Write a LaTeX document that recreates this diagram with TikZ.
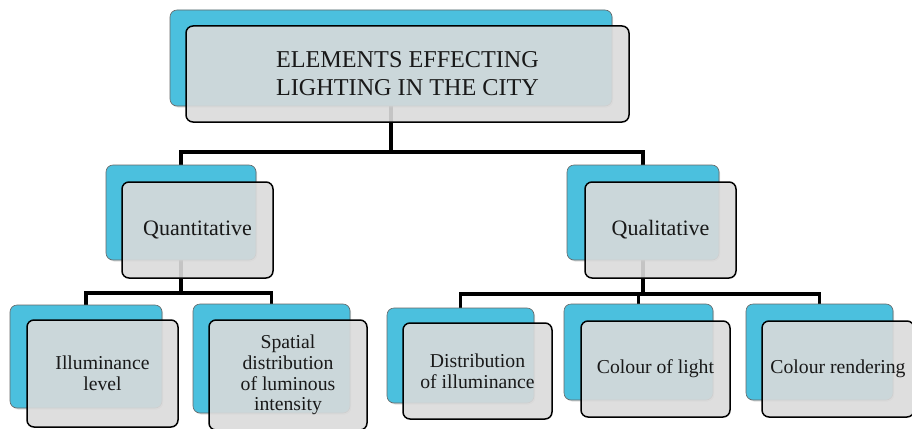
\documentclass[tikz,border=0pt]{standalone}
\usepackage{fontspec}
\setmainfont{Liberation Serif}
\usetikzlibrary{shadows}
\definecolor{skyb}{RGB}{75,192,222}
\definecolor{frontg}{RGB}{218,218,218}
\definecolor{txt}{RGB}{25,25,25}
\pgfdeclarelayer{bg}
\pgfsetlayers{bg,main}
\tikzset{
  backbox/.style={draw=gray!80!black, line width=0.6pt, fill=skyb, rounded corners=7pt,
    inner sep=0pt, drop shadow={opacity=0.25, shadow xshift=1.2pt, shadow yshift=-1.5pt}},
  frontbox/.style={draw=black, line width=1.5pt, fill=frontg, fill opacity=0.9, text opacity=1,
    rounded corners=7pt, inner sep=0pt, align=center, text=txt},
  conn/.style={draw=black, line width=3.8pt},
  fa/.style={font=\fontsize{24.2}{28}\selectfont},
  fb/.style={font=\fontsize{22}{25}\selectfont},
  fc/.style={font=\fontsize{19.7}{20.8}\selectfont}
}
\begin{document}
\begin{tikzpicture}[x=1pt,y=-1pt]
\useasboundingbox (0,0) rectangle (912,428);
% back (blue) boxes
\node[backbox, minimum width=442, minimum height=96] (topb) at (391,58) {};
\node[backbox, minimum width=150, minimum height=95] (quantb) at (181,212.5) {};
\node[backbox, minimum width=152, minimum height=95] (qualb) at (643,212.5) {};
\node[backbox, minimum width=152, minimum height=103] (illb) at (86,356.5) {};
\node[backbox, minimum width=157, minimum height=109] (spab) at (271.5,358.5) {};
\node[backbox, minimum width=147, minimum height=95] (distb) at (460.5,355.5) {};
\node[backbox, minimum width=149, minimum height=96] (clb) at (638.5,352) {};
\node[backbox, minimum width=147, minimum height=96] (crb) at (819.5,352) {};
% front boxes with text
\node[frontbox, fa, minimum width=443, minimum height=96] (topf) at (407.5,74) {ELEMENTS EFFECTING\\LIGHTING IN THE CITY};
\node[frontbox, fb, minimum width=151, minimum height=96] (quantf) at (197.5,230) {Quantitative};
\node[frontbox, fb, minimum width=151, minimum height=96] (qualf) at (660.5,230) {Qualitative};
\node[frontbox, fc, minimum width=151, minimum height=107] (illf) at (102.5,373.5) {Illuminance\\level};
\node[frontbox, fc, minimum width=158, minimum height=110] (spaf) at (288,375) {Spatial\\distribution\\of luminous\\intensity};
\node[frontbox, fc, minimum width=149, minimum height=96] (distf) at (477.5,371) {Distribution\\of illuminance};
\node[frontbox, fc, minimum width=149, minimum height=96] (clf) at (655.5,369) {Colour of light};
\node[frontbox, fc, minimum width=152, minimum height=96] (crf) at (838,369) {Colour rendering};
% connectors
\coordinate (h1) at (0,152);
\coordinate (h2) at (0,293);
\coordinate (h3) at (0,294);
\begin{pgfonlayer}{bg}
\draw[conn] (topb.center) -- (topb.center |- h1);
\draw[conn] (quantb.north) -- (quantb.north |- h1) -- (qualb.north |- h1) -- (qualb.north);
\draw[conn] (quantb.center) -- (quantb.center |- h2);
\draw[conn] (illb.north) -- (illb.north |- h2) -- (spab.north |- h2) -- (spab.north);
\draw[conn] (qualb.center) -- (qualb.center |- h3);
\draw[conn] (distb.north) -- (distb.north |- h3) -- (crb.north |- h3) -- (crb.north);
\draw[conn] (clb.north) -- (clb.north |- h3);
\end{pgfonlayer}
\end{tikzpicture}
\end{document}
